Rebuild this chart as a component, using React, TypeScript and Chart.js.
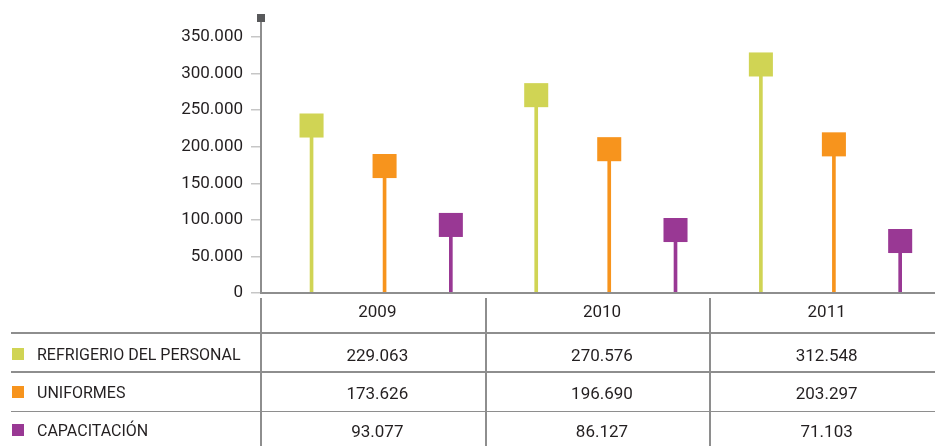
import React, { useEffect, useRef } from 'react';
import { Chart, registerables } from 'chart.js';

Chart.register(...registerables);

// ---- data ----
const years = ['2009', '2010', '2011'];
const seriesNames = ['REFRIGERIO DEL PERSONAL', 'UNIFORMES', 'CAPACITACIÓN'];
const refrigerio = [229063, 270576, 312548];
const uniformes = [173626, 196690, 203297];
const capacitacion = [93077, 86127, 71103];
const yTickValues = [0, 50000, 100000, 150000, 200000, 250000, 300000, 350000];
const seriesColors = ['#D0D454', '#F7941D', '#993894'];

const seriesValues = [refrigerio, uniformes, capacitacion];

// ---- layout ----
const W = 935;
const H = 446;
const AREA_LEFT = 261;
const AREA_TOP = 21;
const AREA_BOTTOM = 293;
const COL_W = (W - AREA_LEFT) / years.length;
const SLOT = [0.225, 0.55, 0.845];
const FONT = 'Roboto, "Noto Sans", sans-serif';
const TEXT = '#231f20';
const LINE = '#8e8e8e';

function fmt(v: number): string {
  return Math.round(v)
    .toString()
    .replace(/\B(?=(\d{3})+(?!\d))/g, '.');
}

const axisDecor = {
  id: 'axisDecor',
  afterDraw(chart: any) {
    const { ctx, chartArea } = chart;
    ctx.save();
    ctx.strokeStyle = LINE;
    ctx.lineWidth = 2;
    ctx.beginPath();
    ctx.moveTo(chartArea.left, chartArea.bottom);
    ctx.lineTo(chart.width, chartArea.bottom);
    ctx.stroke();
    ctx.fillStyle = '#58595b';
    ctx.fillRect(chartArea.left - 4, chartArea.top - 7, 8, 8);
    ctx.restore();
  },
};

export default function App() {
  const ref = useRef<HTMLCanvasElement | null>(null);

  useEffect(() => {
    if (!ref.current) return;
    const datasets: any[] = [];
    seriesValues.forEach((vals, s) => {
      const pts = vals.map((v, i) => ({ x: i + SLOT[s], y: v }));
      datasets.push({
        type: 'bar',
        label: seriesNames[s] + ' stem',
        data: pts,
        backgroundColor: seriesColors[s],
        barThickness: 3,
        grouped: false,
        order: 2,
      });
      datasets.push({
        type: 'scatter',
        label: seriesNames[s],
        data: pts,
        pointStyle: 'rect',
        pointRadius: 17,
        pointHoverRadius: 17,
        backgroundColor: seriesColors[s],
        borderWidth: 0,
        order: 1,
      });
    });

    const chart = new Chart(ref.current, {
      type: 'bar',
      data: { datasets },
      options: {
        responsive: false,
        maintainAspectRatio: false,
        animation: false,
        layout: {
          autoPadding: false,
          padding: { left: 0, right: 0, top: AREA_TOP, bottom: H - AREA_BOTTOM },
        },
        plugins: { legend: { display: false }, tooltip: { enabled: false } },
        scales: {
          x: {
            type: 'linear',
            min: 0,
            max: years.length,
            offset: false,
            grid: { display: false, offset: false },
            ticks: { display: false },
            border: { display: true, color: LINE, width: 2 },
            afterFit: (s: any) => {
              s.height = 0;
            },
          },
          y: {
            type: 'linear',
            min: 0,
            max: 372000,
            afterBuildTicks: (s: any) => {
              s.ticks = yTickValues.map((v) => ({ value: v }));
            },
            afterFit: (s: any) => {
              s.width = AREA_LEFT;
            },
            grid: {
              display: true,
              drawOnChartArea: false,
              drawTicks: true,
              tickLength: 10,
              color: '#c6c6c6',
              lineWidth: 1.5,
            },
            border: { display: true, color: LINE, width: 2 },
            ticks: {
              padding: 8,
              color: TEXT,
              font: { family: FONT, size: 17 },
              callback: (v: any) => fmt(Number(v)),
            },
          },
        },
      },
      plugins: [axisDecor],
    } as any);
    return () => chart.destroy();
  }, []);

  const rowCenters = [354.5, 393, 431];
  const hLines = [333, 372, 411.5];

  return (
    <div
      style={{
        position: 'fixed',
        left: 0,
        top: 0,
        width: W,
        height: H,
        overflow: 'hidden',
        background: '#fff',
        fontFamily: FONT,
        color: TEXT,
      }}
    >
      <canvas
        ref={ref}
        width={W}
        height={H}
        style={{ position: 'absolute', left: 0, top: 0, width: W, height: H }}
      />
      {years.map((_, i) => (
        <div
          key={'v' + i}
          style={{
            position: 'absolute',
            left: AREA_LEFT + i * COL_W - 1,
            top: 298,
            width: 2,
            height: H - 298,
            background: LINE,
          }}
        />
      ))}
      {hLines.map((y, i) => (
        <div
          key={'h' + i}
          style={{
            position: 'absolute',
            left: 11,
            top: y - 1,
            width: W - 11,
            height: 1.5,
            background: LINE,
          }}
        />
      ))}
      {years.map((yr, i) => (
        <div
          key={'y' + i}
          style={{
            position: 'absolute',
            left: AREA_LEFT + i * COL_W + 4,
            width: COL_W,
            top: 310.5 - 12,
            height: 24,
            lineHeight: '24px',
            fontSize: 17,
            textAlign: 'center',
          }}
        >
          {yr}
        </div>
      ))}
      {seriesNames.map((name, s) => (
        <React.Fragment key={'r' + s}>
          <div
            style={{
              position: 'absolute',
              left: 12,
              top: rowCenters[s] - 7,
              width: 12,
              height: 12,
              background: seriesColors[s],
            }}
          />
          <div
            style={{
              position: 'absolute',
              left: 37,
              top: rowCenters[s] - 12,
              height: 24,
              lineHeight: '24px',
              fontSize: 16,
              whiteSpace: 'nowrap',
            }}
          >
            {name}
          </div>
          {seriesValues[s].map((v, i) => (
            <div
              key={'c' + i}
              style={{
                position: 'absolute',
                left: AREA_LEFT + i * COL_W + 4,
                width: COL_W,
                top: rowCenters[s] - 12,
                height: 24,
                lineHeight: '24px',
                fontSize: 17,
                textAlign: 'center',
              }}
            >
              {fmt(v)}
            </div>
          ))}
        </React.Fragment>
      ))}
    </div>
  );
}
